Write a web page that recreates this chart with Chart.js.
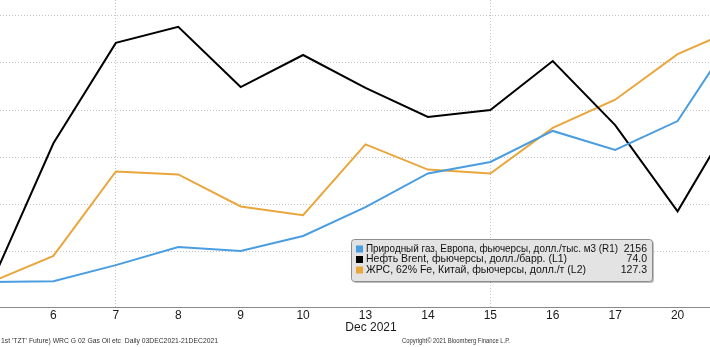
<!DOCTYPE html>
<html>
<head>
<meta charset="utf-8">
<script src="https://cdn.jsdelivr.net/npm/chart.js@4.4.0/dist/chart.umd.min.js"></script>
<style>
  html, body { margin: 0; padding: 0; background: #fff; }
  #wrap { position: relative; width: 710px; height: 347px; overflow: hidden; }
  #chart { position: absolute; left: -20px; top: 0; }
</style>
</head>
<body>
<div id="wrap"><canvas id="chart" width="780" height="347"></canvas></div>
<script>
// trading days, Dec 2021
const days = ['3', '6', '7', '8', '9', '10', '13', '14', '15', '16', '17', '20', '21'];

// TTF gas, USD per 1000 m3 (right axis R1)
const gas = [1068, 1072, 1140, 1217, 1200, 1264, 1387, 1530, 1579, 1711, 1630, 1753, 2156];
// Brent, USD/bbl (left axis L1)
const brent = [69.86, 73.11, 75.43, 75.80, 74.41, 75.15, 74.39, 73.72, 73.88, 75.01, 73.53, 71.54, 73.98];
// iron ore 62% Fe China, USD/t (left axis L2)
const ironOre = [101.0, 103.7, 112.4, 112.1, 108.8, 107.9, 115.2, 112.6, 112.2, 116.9, 119.8, 124.5, 127.3];

const seriesNames = [
  'Природный газ, Европа, фьючерсы, долл./тыс. м3 (R1)',
  'Нефть Brent, фьючерсы, долл./барр. (L1)',
  'ЖРС, 62% Fe, Китай, фьючерсы, долл./т (L2)'
];
const gridDays = ['7', '15'];

const SHIFT = 20; // canvas is shifted left by this many px

const overlay = {
  id: 'overlay',
  afterDraw(chart) {
    const ctx = chart.ctx;
    const x0 = SHIFT;
    ctx.save();

    // month caption under the day ticks
    ctx.fillStyle = '#1a1a1a';
    ctx.font = '12px "Liberation Sans", Arial, sans-serif';
    ctx.textAlign = 'center';
    ctx.textBaseline = 'middle';
    ctx.fillText('Dec 2021', x0 + 371, 328);

    // footer lines
    ctx.fillStyle = '#333';
    ctx.font = '8px "Liberation Sans", Arial, sans-serif';
    ctx.textAlign = 'left';
    ctx.fillText("1st 'TZT' Future) WRC G 02 Gas Oil etc  Daily 03DEC2021-21DEC2021", x0 + 1, 341, 217);
    ctx.fillText('Copyright\u00A9 2021 Bloomberg Finance L.P.', x0 + 402, 341, 108);

    // legend box
    const bx = x0 + 351, by = 239, bw = 301, bh = 42;
    ctx.fillStyle = 'rgba(0,0,0,0.25)';
    roundRect(ctx, bx + 2, by + 2, bw, bh, 3);
    ctx.fill();
    ctx.fillStyle = '#e3e3e3';
    ctx.strokeStyle = '#8c8c8c';
    ctx.lineWidth = 1;
    roundRect(ctx, bx + 0.5, by + 0.5, bw, bh, 3);
    ctx.fill();
    ctx.stroke();

    ctx.font = '10.5px "Liberation Sans", Arial, sans-serif';
    ctx.textBaseline = 'middle';
    const rows = [
      { ds: 0, txt: String(Math.round(gas[gas.length - 1])) },
      { ds: 1, txt: brent[brent.length - 1].toFixed(1) },
      { ds: 2, txt: ironOre[ironOre.length - 1].toFixed(1) }
    ];
    rows.forEach((r, i) => {
      const y = by + 10 + i * 10.5;
      ctx.fillStyle = chart.data.datasets[r.ds].borderColor;
      ctx.fillRect(x0 + 356, y - 3.5, 7, 7);
      ctx.fillStyle = '#111';
      ctx.textAlign = 'left';
      ctx.fillText(seriesNames[r.ds], x0 + 366, y, 252);
      ctx.textAlign = 'right';
      ctx.fillText(r.txt, x0 + 647, y);
    });
    ctx.restore();
  }
};

function roundRect(ctx, x, y, w, h, r) {
  ctx.beginPath();
  ctx.moveTo(x + r, y);
  ctx.lineTo(x + w - r, y);
  ctx.quadraticCurveTo(x + w, y, x + w, y + r);
  ctx.lineTo(x + w, y + h - r);
  ctx.quadraticCurveTo(x + w, y + h, x + w - r, y + h);
  ctx.lineTo(x + r, y + h);
  ctx.quadraticCurveTo(x, y + h, x, y + h - r);
  ctx.lineTo(x, y + r);
  ctx.quadraticCurveTo(x, y, x + r, y);
  ctx.closePath();
}

new Chart(document.getElementById('chart'), {
  type: 'line',
  data: {
    labels: days,
    datasets: [
      { label: seriesNames[0], data: gas, yAxisID: 'R1', borderColor: '#4a9de0', borderWidth: 2 },
      { label: seriesNames[1], data: brent, yAxisID: 'L1', borderColor: '#000000', borderWidth: 2 },
      { label: seriesNames[2], data: ironOre, yAxisID: 'L2', borderColor: '#e9a63c', borderWidth: 2 }
    ]
  },
  options: {
    responsive: false,
    animation: false,
    devicePixelRatio: 1,
    layout: { padding: { left: 11, right: 20, top: 0, bottom: 0 } },
    elements: {
      point: { radius: 0, hoverRadius: 0 },
      line: { tension: 0, borderJoinStyle: 'miter' }
    },
    plugins: { legend: { display: false }, tooltip: { enabled: false } },
    scales: {
      x: {
        offset: false,
        afterFit: s => { s.height = 40; },
        grid: {
          drawTicks: false,
          color: c => (gridDays.includes(days[c.index]) ? '#c4c4c4' : 'rgba(0,0,0,0)')
        },
        border: { display: true, color: '#8a8a8a', width: 1, dash: [1, 2] },
        ticks: {
          padding: 1,
          color: '#1a1a1a',
          font: { family: '"Liberation Sans", Arial, sans-serif', size: 12 },
          maxRotation: 0,
          autoSkip: false
        }
      },
      R1: {
        position: 'right',
        min: 962,
        max: 2268,
        afterFit: s => { s.width = 0; },
        ticks: { display: false, stepSize: 200 },
        grid: {
          drawTicks: false,
          color: c => (c.tick && c.tick.value % 200 === 0 ? '#c4c4c4' : 'rgba(0,0,0,0)')
        },
        border: { display: false, dash: [1, 2] }
      },
      L1: { display: false, min: 69.33, max: 76.42 },
      L2: { display: false, min: 98.43, max: 130.08 }
    }
  },
  plugins: [overlay]
});
</script>
</body>
</html>
